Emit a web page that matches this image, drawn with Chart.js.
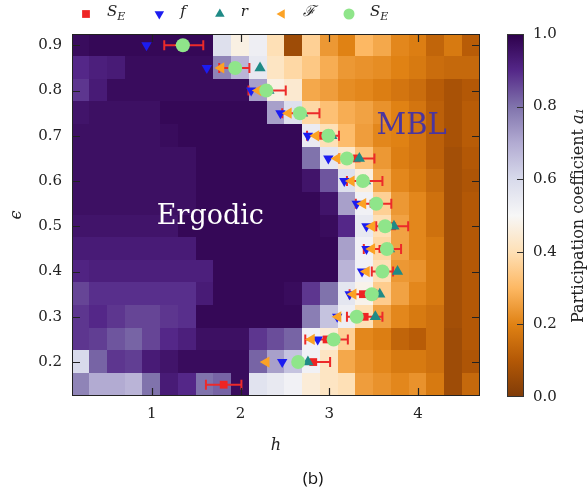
<!DOCTYPE html>
<html>
<head>
<meta charset="utf-8">
<script src="https://cdn.jsdelivr.net/npm/chart.js@4.4.0/dist/chart.umd.min.js"></script>
<style>
  html, body { margin: 0; padding: 0; background: #fff; }
  #wrap { position: relative; width: 587px; height: 495px; }
  #main { position: absolute; left: 0; top: 0; }
  #cbar { position: absolute; left: 490px; top: 0; }
</style>
</head>
<body>
<div id="wrap">
  <canvas id="main" width="587" height="495"></canvas>
  <canvas id="cbar" width="97" height="495"></canvas>
</div>
<script>
// grille du heatmap
const hVals = [0.2, 0.4, 0.6, 0.8, 1.0, 1.2, 1.4, 1.6, 1.8, 2.0, 2.2, 2.4, 2.6, 2.8, 3.0, 3.2, 3.4, 3.6, 3.8, 4.0, 4.2, 4.4, 4.6];
const epsVals = [0.9, 0.85, 0.8, 0.75, 0.7, 0.65, 0.6, 0.55, 0.5, 0.45, 0.4, 0.35, 0.3, 0.25, 0.2, 0.15];

// coefficient de participation a1, une ligne par epsilon (haut -> bas)
const a1 = [
  [0.97,0.98,0.98,0.98,0.98,0.98,0.98,0.98,0.58,0.47,0.53,0.40,0.06,0.36,0.24,0.20,0.30,0.27,0.21,0.19,0.13,0.18,0.11],
  [0.90,0.92,0.93,0.97,0.97,0.97,0.97,0.97,0.77,0.68,0.55,0.42,0.38,0.34,0.28,0.24,0.23,0.22,0.20,0.18,0.15,0.14,0.14],
  [0.88,0.93,0.97,0.97,0.97,0.97,0.97,0.97,0.97,0.97,0.72,0.47,0.44,0.27,0.25,0.22,0.21,0.19,0.17,0.15,0.11,0.08,0.10],
  [0.95,0.96,0.96,0.96,0.96,0.98,0.98,0.98,0.98,0.98,0.98,0.72,0.58,0.38,0.32,0.28,0.26,0.23,0.20,0.17,0.12,0.08,0.11],
  [0.96,0.96,0.96,0.96,0.96,0.97,0.98,0.98,0.98,0.98,0.98,0.98,0.98,0.54,0.40,0.31,0.25,0.21,0.20,0.17,0.12,0.08,0.11],
  [0.96,0.96,0.96,0.96,0.96,0.96,0.96,0.98,0.98,0.98,0.98,0.98,0.98,0.80,0.56,0.43,0.33,0.24,0.19,0.17,0.12,0.07,0.10],
  [0.96,0.96,0.96,0.96,0.96,0.96,0.96,0.98,0.98,0.98,0.98,0.98,0.98,0.95,0.84,0.58,0.46,0.27,0.21,0.18,0.14,0.07,0.09],
  [0.96,0.96,0.96,0.96,0.96,0.96,0.96,0.98,0.98,0.98,0.98,0.98,0.98,0.98,0.95,0.72,0.52,0.36,0.24,0.21,0.16,0.07,0.10],
  [0.95,0.95,0.95,0.95,0.95,0.95,0.98,0.98,0.98,0.98,0.98,0.98,0.98,0.98,0.97,0.90,0.55,0.40,0.26,0.21,0.16,0.07,0.10],
  [0.93,0.93,0.93,0.93,0.93,0.93,0.93,0.98,0.98,0.98,0.98,0.98,0.98,0.98,0.98,0.72,0.52,0.38,0.26,0.21,0.18,0.07,0.10],
  [0.91,0.92,0.92,0.92,0.92,0.92,0.92,0.92,0.98,0.98,0.98,0.98,0.98,0.98,0.98,0.68,0.52,0.40,0.24,0.23,0.18,0.07,0.10],
  [0.86,0.89,0.89,0.89,0.89,0.89,0.89,0.93,0.98,0.98,0.98,0.98,0.97,0.88,0.80,0.56,0.48,0.35,0.26,0.21,0.18,0.07,0.10],
  [0.88,0.90,0.88,0.86,0.86,0.88,0.89,0.98,0.98,0.98,0.98,0.98,0.98,0.78,0.65,0.53,0.40,0.26,0.21,0.18,0.16,0.07,0.10],
  [0.88,0.87,0.84,0.82,0.86,0.90,0.92,0.96,0.96,0.96,0.88,0.85,0.82,0.52,0.45,0.36,0.21,0.19,0.13,0.11,0.16,0.06,0.10],
  [0.60,0.82,0.88,0.87,0.93,0.95,0.97,0.97,0.97,0.97,0.82,0.72,0.65,0.52,0.42,0.27,0.23,0.21,0.18,0.18,0.16,0.06,0.09],
  [0.77,0.70,0.70,0.68,0.80,0.93,0.90,0.80,0.82,0.97,0.57,0.55,0.52,0.45,0.42,0.40,0.25,0.23,0.21,0.23,0.18,0.06,0.14]
];

// points de transition (h critique) pour chaque epsilon
const epsPts  = [0.9, 0.85, 0.8, 0.75, 0.7, 0.65, 0.6, 0.55, 0.5, 0.45, 0.4, 0.35, 0.3, 0.25, 0.2, 0.15];
const seRed   = [1.36, 1.93, 2.30, 2.68, 2.93, 3.31, 3.40, 3.50, 3.71, 3.60, 3.60, 3.38, 3.40, 2.97, 2.82, 1.81];
const seErr   = [0.22, 0.17, 0.21, 0.21, 0.18, 0.20, 0.20, 0.20, 0.18, 0.21, 0.12, 0.15, 0.20, 0.24, 0.19, 0.20];
const fVals   = [0.94, 1.62, 2.12, 2.45, 2.76, 2.99, 3.17, 3.31, 3.42, 3.42, 3.37, 3.23, 3.09, 2.87, 2.47, null];
const rVals   = [null, 2.22, 2.32, 2.70, 3.03, 3.34, 3.41, 3.53, 3.73, 3.68, 3.77, 3.57, 3.52, 3.06, 2.76, null];
const bigF    = [1.33, 1.78, 2.20, 2.54, 2.85, 3.09, 3.25, 3.38, 3.48, 3.48, 3.42, 3.27, 3.10, 2.80, 2.29, null];
const seGreen = [1.35, 1.94, 2.29, 2.67, 2.99, 3.20, 3.38, 3.53, 3.63, 3.65, 3.60, 3.48, 3.31, 3.05, 2.65, null];

const xTicks = [1, 2, 3, 4];
const yTicks = [0.2, 0.3, 0.4, 0.5, 0.6, 0.7, 0.8, 0.9];
const cbTicks = [0, 0.2, 0.4, 0.6, 0.8, 1.0];

const regionLabels = [
  { text: 'Ergodic', h: 1.66, eps: 0.52, color: '#ffffff', size: 27 },
  { text: 'MBL', h: 3.93, eps: 0.72, color: '#4a35a0', size: 29 }
];

// palette PuOr (0 -> brun, 1 -> violet)
const puorStops = ['#7f3b08', '#b35806', '#e08214', '#fdb863', '#fee0b6', '#f7f7f7', '#d8daeb', '#b2abd2', '#8073ac', '#542788', '#2d004b'];

function hexToRgb(hex) {
  const n = parseInt(hex.slice(1), 16);
  return [(n >> 16) & 255, (n >> 8) & 255, n & 255];
}

function puor(v) {
  const s = Math.max(0, Math.min(1, v)) * 10;
  const i = Math.min(9, Math.floor(s));
  const t = s - i;
  const c0 = hexToRgb(puorStops[i]);
  const c1 = hexToRgb(puorStops[i + 1]);
  const c = c0.map((a, k) => Math.round(a + (c1[k] - a) * t));
  return `rgb(${c[0]},${c[1]},${c[2]})`;
}

function toPoints(xs) {
  return epsPts.map((e, i) => ({ x: xs[i], y: e })).filter(p => p.x !== null);
}

const serif = 'DejaVu Serif';
const axisColor = '#222';

const heatmapPlugin = {
  id: 'heatmap',
  beforeDatasetsDraw(chart) {
    const { ctx, scales: { x, y } } = chart;
    const dh = (hVals[1] - hVals[0]) / 2;
    const de = (epsVals[0] - epsVals[1]) / 2;
    ctx.save();
    epsVals.forEach((e, j) => {
      hVals.forEach((h, i) => {
        const x0 = Math.floor(x.getPixelForValue(h - dh));
        const x1 = Math.ceil(x.getPixelForValue(h + dh));
        const y0 = Math.floor(y.getPixelForValue(e + de));
        const y1 = Math.ceil(y.getPixelForValue(e - de));
        ctx.fillStyle = puor(a1[j][i]);
        ctx.fillRect(x0, y0, x1 - x0, y1 - y0);
      });
    });

    // textes des phases
    ctx.textAlign = 'center';
    ctx.textBaseline = 'middle';
    regionLabels.forEach(l => {
      ctx.font = `${l.size}px "${serif}"`;
      ctx.fillStyle = l.color;
      ctx.fillText(l.text, x.getPixelForValue(l.h), y.getPixelForValue(l.eps));
    });

    // barres d'erreur de S_E
    ctx.strokeStyle = '#ec2a2a';
    ctx.lineWidth = 2;
    seRed.forEach((v, i) => {
      const py = y.getPixelForValue(epsPts[i]);
      const xl = x.getPixelForValue(v - seErr[i]);
      const xr = x.getPixelForValue(v + seErr[i]);
      ctx.beginPath();
      ctx.moveTo(xl, py); ctx.lineTo(xr, py);
      ctx.moveTo(xl, py - 5); ctx.lineTo(xl, py + 5);
      ctx.moveTo(xr, py - 5); ctx.lineTo(xr, py + 5);
      ctx.stroke();
    });
    ctx.restore();
  },
  afterDatasetsDraw(chart) {
    const { ctx, chartArea: a, scales: { x, y } } = chart;
    ctx.save();
    ctx.strokeStyle = axisColor;
    ctx.lineWidth = 1.2;
    ctx.beginPath();
    x.ticks.forEach(t => {
      const px = Math.round(x.getPixelForValue(t.value)) + 0.5;
      ctx.moveTo(px, a.bottom); ctx.lineTo(px, a.bottom - 8);
      ctx.moveTo(px, a.top); ctx.lineTo(px, a.top + 8);
    });
    y.ticks.forEach(t => {
      const py = Math.round(y.getPixelForValue(t.value)) + 0.5;
      ctx.moveTo(a.left, py); ctx.lineTo(a.left + 8, py);
      ctx.moveTo(a.right, py); ctx.lineTo(a.right - 8, py);
    });
    ctx.stroke();
    ctx.lineWidth = 1;
    ctx.strokeRect(a.left + 0.5, a.top + 0.5, a.right - a.left - 1, a.bottom - a.top - 1);
    ctx.restore();
  },
  afterDraw(chart) {
    const { ctx } = chart;
    ctx.save();
    // légende en haut
    let cx = 86;
    const ly = 14;
    chart.data.datasets.forEach(ds => {
      ctx.fillStyle = ds.backgroundColor;
      Chart.helpers.drawPoint(ctx, { pointStyle: ds.pointStyle, rotation: ds.rotation || 0, radius: 5.5, borderWidth: 0 }, cx, ly);
      ctx.fillStyle = '#222';
      ctx.textBaseline = 'middle';
      ctx.textAlign = 'left';
      ctx.font = `italic 15px "${serif}"`;
      const tx = cx + 21;
      ctx.fillText(ds.label, tx, ly - 2);
      let w = ctx.measureText(ds.label).width;
      if (ds.sub) {
        ctx.font = `italic 11px "${serif}"`;
        ctx.fillText(ds.sub, tx + w, ly + 3);
        w += ctx.measureText(ds.sub).width;
      }
      cx = tx + w + 34;
    });
    // étiquette du panneau
    ctx.font = '17px "Open Sans"';
    ctx.fillStyle = '#111';
    ctx.textAlign = 'center';
    ctx.fillText('(b)', 313, 479);
    ctx.restore();
  }
};

new Chart(document.getElementById('main'), {
  type: 'scatter',
  data: {
    datasets: [
      { label: 'S', sub: 'E', data: toPoints(seRed), pointStyle: 'rect', pointRadius: 5.5, backgroundColor: '#ee2424', borderColor: '#ee2424', order: 5 },
      { label: 'f', data: toPoints(fVals), pointStyle: 'triangle', rotation: 180, pointRotation: 180, pointRadius: 6, backgroundColor: '#1c1cf0', borderColor: '#1c1cf0', order: 4 },
      { label: 'r', data: toPoints(rVals), pointStyle: 'triangle', pointRadius: 6.5, backgroundColor: '#1f8a86', borderColor: '#1f8a86', order: 3 },
      { label: 'ℱ', data: toPoints(bigF), pointStyle: 'triangle', rotation: 270, pointRotation: 270, pointRadius: 6.5, backgroundColor: '#fca224', borderColor: '#fca224', order: 2 },
      { label: 'S', sub: 'E', data: toPoints(seGreen), pointStyle: 'circle', pointRadius: 7, backgroundColor: '#8fe58a', borderColor: '#8fe58a', order: 1 }
    ]
  },
  options: {
    responsive: false,
    animation: false,
    events: [],
    devicePixelRatio: 1,
    layout: { padding: { top: 34, right: 107, left: 0, bottom: 0 } },
    plugins: { legend: { display: false }, tooltip: { enabled: false } },
    elements: { point: { borderWidth: 0 } },
    scales: {
      x: {
        type: 'linear', min: 0.1, max: 4.7,
        grid: { display: false, drawTicks: false }, border: { display: false },
        afterBuildTicks: s => { s.ticks = xTicks.map(v => ({ value: v })); },
        afterFit: s => { s.height = 99; },
        ticks: { color: axisColor, padding: 9, font: { family: serif, size: 15 }, callback: v => String(v) },
        title: { display: true, text: 'h', color: axisColor, font: { family: serif, style: 'italic', size: 16 }, padding: { top: 0, bottom: 40 } }
      },
      y: {
        type: 'linear', min: 0.125, max: 0.925,
        grid: { display: false, drawTicks: false }, border: { display: false },
        afterBuildTicks: s => { s.ticks = yTicks.map(v => ({ value: v })); },
        afterFit: s => { s.width = 72; },
        ticks: { color: axisColor, padding: 10, font: { family: serif, size: 15 }, callback: v => v.toFixed(1) },
        title: { display: true, text: 'ϵ', color: axisColor, font: { family: serif, style: 'italic', size: 16 }, padding: { top: 7 } }
      }
    }
  },
  plugins: [heatmapPlugin]
});

// barre de couleur
const cbarPlugin = {
  id: 'cbarDecor',
  afterDatasetsDraw(chart) {
    const { ctx, chartArea: a, scales: { y } } = chart;
    ctx.save();
    ctx.strokeStyle = '#333';
    ctx.lineWidth = 1.2;
    ctx.beginPath();
    cbTicks.slice(1, -1).forEach(v => {
      const py = Math.round(y.getPixelForValue(v)) + 0.5;
      ctx.moveTo(a.right, py); ctx.lineTo(a.right - 7, py);
    });
    ctx.stroke();
    ctx.lineWidth = 1;
    ctx.strokeRect(a.left + 0.5, a.top + 0.5, a.right - a.left - 1, a.bottom - a.top - 1);

    // titre vertical
    const main = 'Participation coefficient ';
    ctx.font = `16px "${serif}"`;
    const w1 = ctx.measureText(main).width;
    ctx.font = `italic 16px "${serif}"`;
    const w2 = ctx.measureText('a₁').width;
    ctx.translate(89, (a.top + a.bottom) / 2);
    ctx.rotate(-Math.PI / 2);
    ctx.fillStyle = '#222';
    ctx.textBaseline = 'middle';
    ctx.textAlign = 'left';
    const start = -(w1 + w2) / 2;
    ctx.font = `16px "${serif}"`;
    ctx.fillText(main, start, 0);
    ctx.font = `italic 16px "${serif}"`;
    ctx.fillText('a₁', start + w1, 0);
    ctx.restore();
  }
};

new Chart(document.getElementById('cbar'), {
  type: 'bar',
  data: {
    labels: [''],
    datasets: [{
      data: [[cbTicks[0], cbTicks[cbTicks.length - 1]]],
      backgroundColor: c => {
        const ys = c.chart.scales.y;
        const y0 = ys ? ys.getPixelForValue(0) : NaN;
        const y1 = ys ? ys.getPixelForValue(1) : NaN;
        if (!isFinite(y0) || !isFinite(y1) || y0 === y1) return '#ffffff';
        const g = c.chart.ctx.createLinearGradient(0, y0, 0, y1);
        puorStops.forEach((col, i) => g.addColorStop(i / (puorStops.length - 1), col));
        return g;
      },
      borderWidth: 0,
      barPercentage: 1,
      categoryPercentage: 1
    }]
  },
  options: {
    responsive: false,
    animation: false,
    events: [],
    devicePixelRatio: 1,
    layout: { padding: { left: 17, top: 34, bottom: 98, right: 0 } },
    plugins: { legend: { display: false }, tooltip: { enabled: false } },
    scales: {
      x: { display: false },
      y: {
        position: 'right', min: 0, max: 1,
        grid: { display: false, drawTicks: false }, border: { display: false },
        afterBuildTicks: s => { s.ticks = cbTicks.map(v => ({ value: v })); },
        afterFit: s => { s.width = 63; },
        ticks: { color: axisColor, padding: 9, font: { family: serif, size: 15 }, callback: v => v.toFixed(1) }
      }
    }
  },
  plugins: [cbarPlugin]
});
</script>
</body>
</html>
